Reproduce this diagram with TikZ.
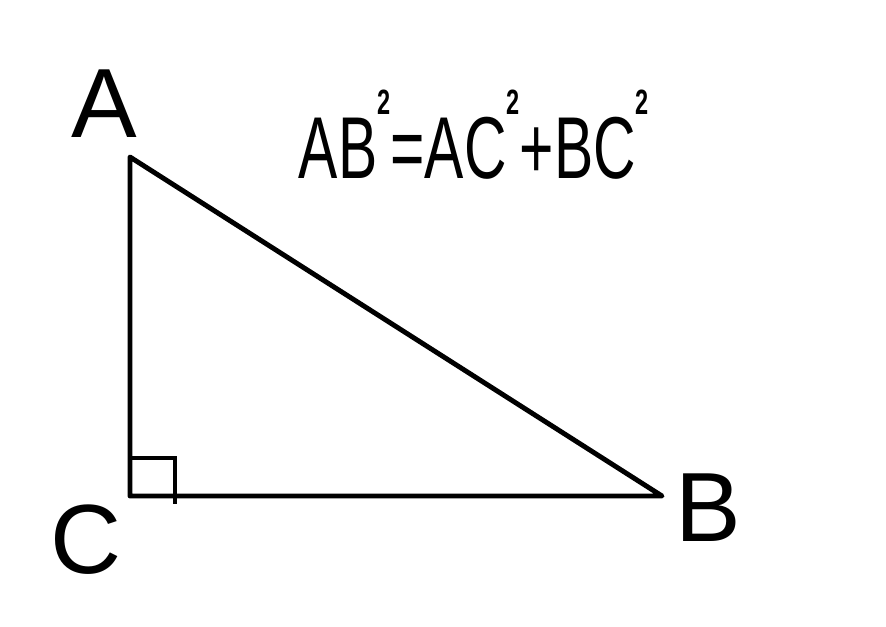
\documentclass[tikz,border=0pt]{standalone}
\usepackage{fontspec}
\setmainfont{Liberation Sans}
\newcommand{\sqr}{\raisebox{0.72em}{\fontsize{20}{20}\selectfont\bfseries 2}}
\begin{document}
\begin{tikzpicture}[x=0.02cm,y=-0.02cm]
				\useasboundingbox (0,0) rectangle (886,626);

				\coordinate (A) at (130,157);
				\coordinate (C) at (130,496);
				\coordinate (B) at (662,496);

				\draw [line width=2.8pt, line join=round] (A) -- (B) -- (C) -- cycle;
				\draw [line width=2.4pt] (130,458) -- (175,458) -- (175,504);

				\node [font=\fontsize{56}{60}\selectfont] (lA) at (104,104) {A};
				\node [font=\fontsize{56}{60}\selectfont] (lC) at (86,540) {C};
				\node [font=\fontsize{56}{60}\selectfont] (lB) at (708,508) {B};

				\node [font=\fontsize{50}{54}\selectfont, anchor=base] (eq) at (474,178)
					{\scalebox{0.67}[1]{AB\sqr=AC\sqr+BC\sqr}};
		\end{tikzpicture}
\end{document}
